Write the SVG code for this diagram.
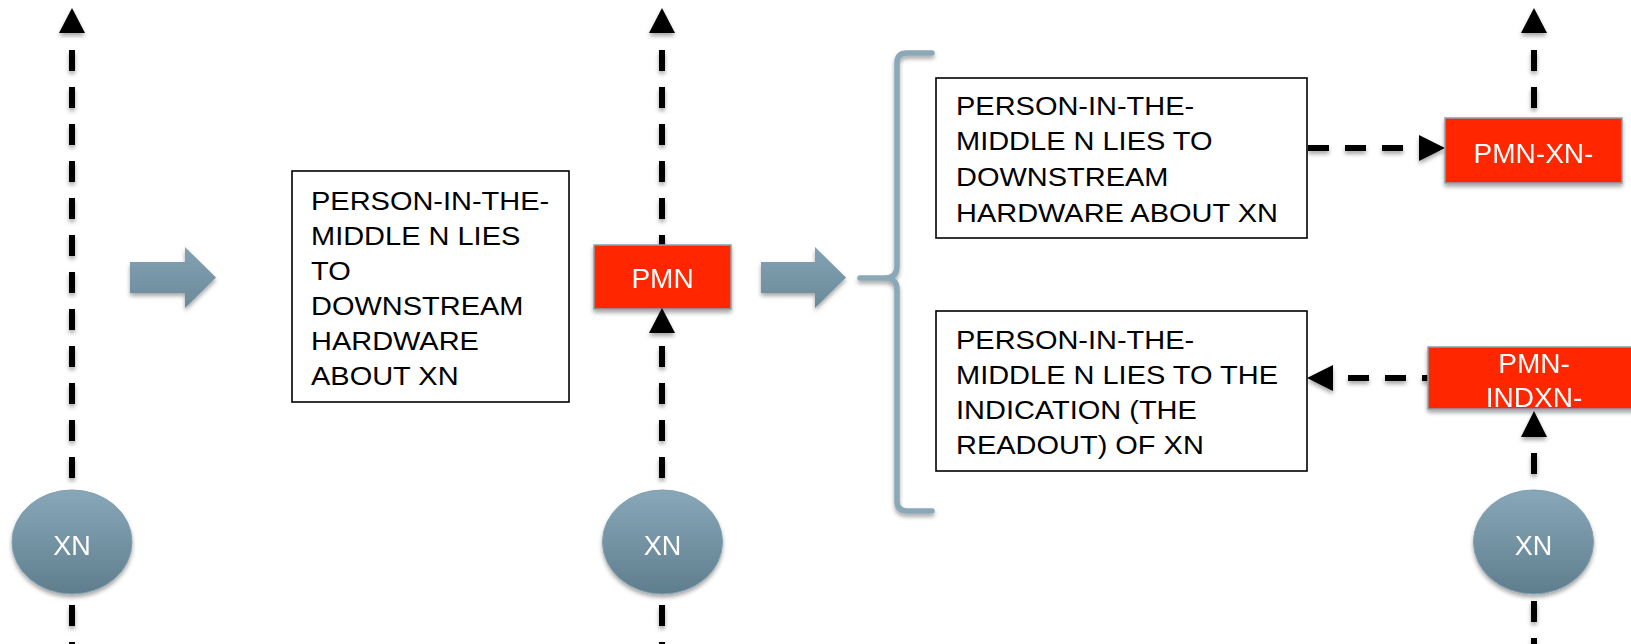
<svg xmlns="http://www.w3.org/2000/svg" width="1631" height="644" viewBox="0 0 1631 644">
  <defs>
    <linearGradient id="ovalFill" x1="0" y1="0" x2="0" y2="1">
      <stop offset="0" stop-color="#88a8b9"/>
      <stop offset="1" stop-color="#5f7d8d"/>
    </linearGradient>
    <linearGradient id="blockFill" x1="0" y1="0" x2="0" y2="1">
      <stop offset="0" stop-color="#83a3b4"/>
      <stop offset="1" stop-color="#6a8999"/>
    </linearGradient>
    <filter id="shadow" filterUnits="userSpaceOnUse" x="0" y="0" width="1631" height="644">
      <feDropShadow dx="0" dy="3" stdDeviation="2" flood-color="#000" flood-opacity="0.35"/>
    </filter>
  </defs>
  <style>
    .dash { stroke: #000; stroke-width: 6; stroke-dasharray: 21 16; fill: none; }
    .head { fill: #000; }
    .oval { fill: url(#ovalFill); stroke: #7f9fb0; stroke-width: 1; }
    .block { fill: url(#blockFill); }
    .red { fill: #ff2600; stroke: #86a3b3; stroke-width: 1.5; }
    .note { fill: #fff; stroke: #000; stroke-width: 1.6; }
    .lbl { font-family: "Liberation Sans", Arial, sans-serif; fill: #fff; text-anchor: middle; }
    .txt { font-family: "Liberation Sans", Arial, sans-serif; font-size: 26px; fill: #000; }
    .brace { fill: none; stroke: #8aa8b8; stroke-width: 5.5; stroke-linecap: round; stroke-linejoin: round; }
  </style>

  <!-- connectors: dashed signal lines and their arrowheads -->
  <g id="connectors" filter="url(#shadow)">
    <line class="dash" x1="72" y1="50" x2="72" y2="680"/>
    <polygon class="head" points="72,8 85,33 59,33"/>

    <line class="dash" x1="662" y1="50" x2="662" y2="245"/>
    <polygon class="head" points="662,8 675,33 649,33"/>
    <line class="dash" x1="662" y1="346" x2="662" y2="680"/>

    <line class="dash" x1="1534" y1="50" x2="1534" y2="118"/>
    <polygon class="head" points="1534,8 1547,33 1521,33"/>
    <line class="dash" x1="1534" y1="453" x2="1534" y2="680"/>

    <line class="dash" x1="1308" y1="148" x2="1419" y2="148"/>
    <polygon class="head" points="1445,148 1419,135 1419,161"/>

    <line class="dash" x1="1348" y1="378" x2="1429" y2="378"/>
    <polygon class="head" points="1307,378 1333,365 1333,391"/>
  </g>

  <!-- transition arrows -->
  <g id="step-arrow-1" filter="url(#shadow)">
    <polygon class="block" points="130,262 185,262 185,247 216,277.5 185,308 185,293 130,293"/>
  </g>
  <g id="step-arrow-2" filter="url(#shadow)">
    <polygon class="block" points="761,262 815,262 815,247 846,277.5 815,308 815,293 761,293"/>
  </g>

  <!-- curly brace grouping the two outcomes -->
  <g id="brace" filter="url(#shadow)">
    <path class="brace" d="M932,53 L907,53 Q897,53 897,63 L897,266 Q897,278 885,278 L860,278 M885,278 Q897,278 897,290 L897,501 Q897,511 907,511 L932,511"/>
  </g>

  <!-- XN sources -->
  <g id="xn-left" filter="url(#shadow)">
    <ellipse class="oval" cx="72" cy="542" rx="60" ry="52"/>
    <text class="lbl" x="72" y="555" font-size="27">XN</text>
  </g>
  <g id="xn-middle" filter="url(#shadow)">
    <ellipse class="oval" cx="662.5" cy="542" rx="60" ry="52"/>
    <text class="lbl" x="662.5" y="555" font-size="27">XN</text>
  </g>
  <g id="xn-right" filter="url(#shadow)">
    <ellipse class="oval" cx="1533.5" cy="542" rx="60" ry="52"/>
    <text class="lbl" x="1533.5" y="555" font-size="27">XN</text>
  </g>

  <!-- person-in-the-middle nodes -->
  <g id="pmn" filter="url(#shadow)">
    <rect class="red" x="594" y="245" width="137" height="64"/>
    <polygon class="head" points="662,308 675,333 649,333"/>
    <text class="lbl" x="662.5" y="288" font-size="28">PMN</text>
  </g>
  <g id="pmn-xn" filter="url(#shadow)">
    <rect class="red" x="1445" y="118" width="177" height="65"/>
    <text class="lbl" x="1533.5" y="163" font-size="28">PMN-XN-</text>
  </g>
  <g id="pmn-indxn" filter="url(#shadow)">
    <rect class="red" x="1428" y="347" width="215" height="62"/>
    <text class="lbl" x="1534" y="373" font-size="28">PMN-</text>
    <text class="lbl" x="1534" y="407" font-size="28">INDXN-</text>
  </g>
  <g id="pmn-indxn-head" filter="url(#shadow)">
    <polygon class="head" points="1534,411 1547,437 1521,437"/>
  </g>

  <!-- description boxes -->
  <g id="note-left">
    <rect class="note" x="292" y="171" width="277" height="231"/>
    <g transform="translate(311 0) scale(1.115 1)">
      <text class="txt" x="0" y="210">PERSON-IN-THE-</text>
      <text class="txt" x="0" y="245">MIDDLE N LIES</text>
      <text class="txt" x="0" y="280">TO</text>
      <text class="txt" x="0" y="315">DOWNSTREAM</text>
      <text class="txt" x="0" y="350">HARDWARE</text>
      <text class="txt" x="0" y="385">ABOUT XN</text>
    </g>
  </g>
  <g id="note-hardware">
    <rect class="note" x="936" y="78" width="371" height="160"/>
    <g transform="translate(956 0) scale(1.115 1)">
      <text class="txt" x="0" y="115">PERSON-IN-THE-</text>
      <text class="txt" x="0" y="150">MIDDLE N LIES TO</text>
      <text class="txt" x="0" y="186">DOWNSTREAM</text>
      <text class="txt" x="0" y="222">HARDWARE ABOUT XN</text>
    </g>
  </g>
  <g id="note-indication">
    <rect class="note" x="936" y="311" width="371" height="160"/>
    <g transform="translate(956 0) scale(1.115 1)">
      <text class="txt" x="0" y="349">PERSON-IN-THE-</text>
      <text class="txt" x="0" y="384">MIDDLE N LIES TO THE</text>
      <text class="txt" x="0" y="419">INDICATION (THE</text>
      <text class="txt" x="0" y="454">READOUT) OF XN</text>
    </g>
  </g>
</svg>
